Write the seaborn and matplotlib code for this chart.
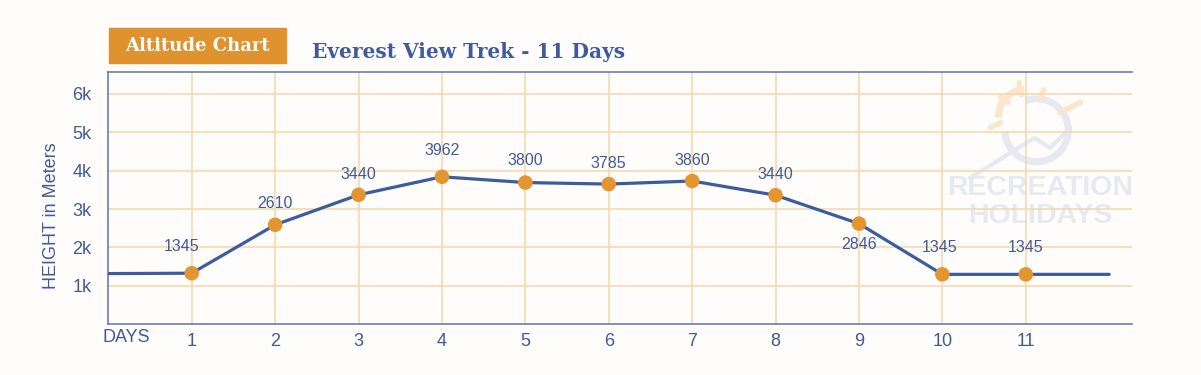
"""Everest View Trek altitude chart."""

import matplotlib.pyplot as plt
import pandas as pd
import seaborn as sns
from matplotlib.patches import Arc, Rectangle

# trek days (0 and 12 are only the flat line ends)
line_days = [0, 1, 2, 3, 4, 5, 6, 7, 8, 9, 10, 11, 12]
line_heights = [1320, 1330, 2590, 3370, 3840, 3690, 3650, 3730, 3360, 2620, 1300, 1300, 1300]

point_days = [1, 2, 3, 4, 5, 6, 7, 8, 9, 10, 11]
point_heights = [1330, 2590, 3370, 3840, 3690, 3650, 3730, 3360, 2620, 1300, 1300]
point_labels = ["1345", "2610", "3440", "3962", "3800", "3785", "3860", "3440", "2846", "1345", "1345"]

y_ticks = [1000, 2000, 3000, 4000, 5000, 6000]
y_tick_labels = ["1k", "2k", "3k", "4k", "5k", "6k"]
x_tick_labels = [str(d) for d in point_days]

BLUE = "#3f5b9b"
LINE_BLUE = "#3d5c9e"
ORANGE = "#e3952f"
GRID = "#f5d6a8"
MARK = "#e6e9f0"

sns.set_theme(style="white")
plt.rcParams["font.family"] = ["Liberation Sans", "DejaVu Sans"]

fig = plt.figure(figsize=(12.01, 3.75), dpi=100)
fig.patch.set_facecolor("#fefdfb")
ax = fig.add_axes([0.0902, 0.1352, 0.8521, 0.672])
ax.set_facecolor("#fefdfb")

# watermark logo + name (under the grid)
ax.text(0.911, 0.54, "RECREATION", transform=ax.transAxes, ha="center", va="center",
        fontsize=20.5, color=MARK, fontweight="bold", zorder=0)
ax.text(0.911, 0.43, "HOLIDAYS", transform=ax.transAxes, ha="center", va="center",
        fontsize=20.5, color=MARK, fontweight="bold", zorder=0)
ax.add_patch(Arc((0.907, 0.77), 0.062, 0.25, transform=ax.transAxes, theta1=-170, theta2=95,
                 color=MARK, lw=5, zorder=0))
ax.add_patch(Arc((0.895, 0.83), 0.05, 0.2, transform=ax.transAxes, theta1=90, theta2=200,
                 color="#fbe6cc", lw=5, zorder=0))
for (x0, y0, x1, y1) in [(0.862, 0.78, 0.872, 0.80), (0.872, 0.90, 0.879, 0.88),
                         (0.89, 0.96, 0.892, 0.91), (0.914, 0.93, 0.91, 0.89),
                         (0.93, 0.84, 0.95, 0.88)]:
    ax.plot([x0, x1], [y0, y1], transform=ax.transAxes, color="#fbe6cc", lw=4,
            solid_capstyle="round", zorder=0)
ax.plot([0.842, 0.905, 0.92, 0.94], [0.58, 0.74, 0.70, 0.78], transform=ax.transAxes,
        color=MARK, lw=3, zorder=0)

line_df = pd.DataFrame({"day": line_days, "height": line_heights})
point_df = pd.DataFrame({"day": point_days, "height": point_heights, "label": point_labels})

sns.lineplot(data=line_df, x="day", y="height", color=LINE_BLUE, linewidth=2.3, ax=ax, zorder=3)
sns.scatterplot(data=point_df, x="day", y="height", color=ORANGE, s=110, edgecolor="none",
                ax=ax, zorder=4)

# label offsets in points (day 9 sits below its marker)
offsets = [(-7, 19), (0, 15), (0, 15), (0, 19), (0, 16), (0, 15), (0, 15), (0, 15), (0, -15), (-2, 19), (0, 19)]
for (_, row), (dx, dy) in zip(point_df.iterrows(), offsets):
    ax.annotate(row["label"], (row["day"], row["height"]), xytext=(dx, dy),
                textcoords="offset points", ha="center", va="center",
                fontsize=11.5, color=BLUE, zorder=5)

ax.set_xlim(0, 12.27)
ax.set_ylim(0, 6560)
ax.set_xticks(point_days)
ax.set_xticklabels(x_tick_labels)
ax.set_yticks(y_ticks)
ax.set_yticklabels(y_tick_labels)
ax.tick_params(axis="both", length=0, labelsize=13, labelcolor=BLUE)
ax.tick_params(axis="x", pad=6)
ax.tick_params(axis="y", pad=12)
ax.grid(True, color=GRID, linewidth=1.1, zorder=1)
ax.set_axisbelow(True)
ax.set_xlabel("")
ax.set_ylabel("HEIGHT in Meters", fontsize=13, color=BLUE)
ax.yaxis.set_label_coords(-0.047, 0.43)

for side in ["left", "bottom", "top"]:
    ax.spines[side].set_visible(True)
    ax.spines[side].set_color("#5a74aa")
    ax.spines[side].set_linewidth(1.1)
ax.spines["right"].set_visible(False)

fig.text(126 / 1201, 1 - 338 / 375, "DAYS", ha="center", va="center", fontsize=13, color=BLUE)

# heading box and title
fig.add_artist(Rectangle((109 / 1201, 1 - 63 / 375), 177 / 1201, 35 / 375,
                         transform=fig.transFigure, color="#e0922e", zorder=2))
fig.text(197 / 1201, 1 - 46 / 375, "Altitude Chart", ha="center", va="center",
         fontsize=13, color="white", family=["DejaVu Serif"], fontweight="bold", zorder=3)
fig.text(469 / 1201, 1 - 52 / 375, "Everest View Trek - 11 Days", ha="center", va="center",
         fontsize=14.5, color=BLUE, family=["DejaVu Serif"], fontweight="bold")

plt.savefig("out.png", dpi=100, facecolor=fig.get_facecolor())
plt.close()
